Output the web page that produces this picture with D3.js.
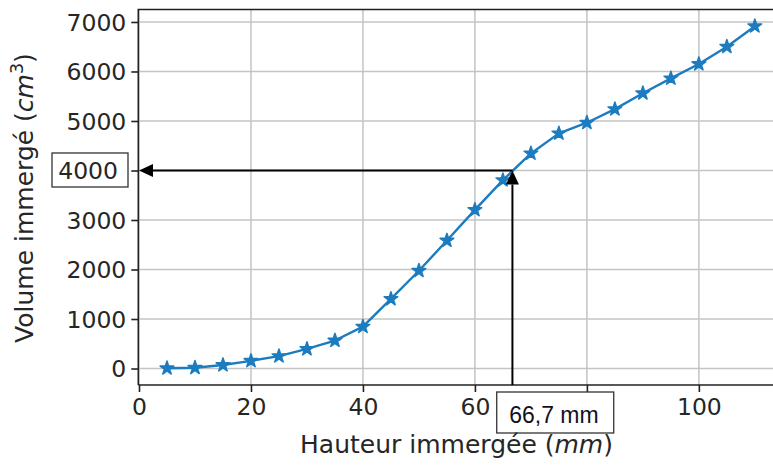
<!DOCTYPE html>
<html>
<head>
<meta charset="utf-8">
<script src="https://cdn.jsdelivr.net/npm/d3@7"></script>
<style>
  html, body { margin: 0; padding: 0; background: #fff; }
  svg { display: block; }
  text { font-family: "DejaVu Sans", sans-serif; fill: #262626; }
</style>
</head>
<body>
<svg id="chart" width="773" height="470"></svg>
<script>
// Immersed height (mm) and immersed volume (cm³)
const heights = [5, 10, 15, 20, 25, 30, 35, 40, 45, 50, 55, 60, 65, 70, 75, 80, 85, 90, 95, 100, 105, 110];
const volumes = [5, 15, 70, 155, 250, 395, 565, 845, 1405, 1975, 2585, 3205, 3805, 4345, 4750, 4965, 5240, 5560, 5860, 6150, 6500, 6915];

const xTicks = [0, 20, 40, 60, 80, 100];
const yTicks = [0, 1000, 2000, 3000, 4000, 5000, 6000, 7000];

// Reading taken off the curve
const readHeight = 66.7;
const readVolume = 4000;
const readHeightLabel = "66,7 mm";
const readVolumeLabel = "4000";

(function draw() {
  const svg = d3.select("#chart");
  const left = 138.3, right = 775, plotTop = 9.5, plotBottom = 385;

  const x = d3.scaleLinear().domain([-0.125, 113.6]).range([left, right]);
  const y = d3.scaleLinear().domain([-333, 7252]).range([plotBottom, plotTop]);

  const blue = "#1c7cbf";

  // grid
  const grid = svg.append("g");
  grid.selectAll("line.gx").data(xTicks).join("line")
    .attr("x1", d => x(d)).attr("x2", d => x(d))
    .attr("y1", plotTop).attr("y2", plotBottom)
    .attr("stroke", "#c4c4c4").attr("stroke-width", 1.5);
  grid.selectAll("line.gy").data(yTicks).join("line")
    .attr("x1", left).attr("x2", right)
    .attr("y1", d => y(d)).attr("y2", d => y(d))
    .attr("stroke", "#c4c4c4").attr("stroke-width", 1.5);

  // axes; the tick labels at the reading positions are covered by the boxed readings
  const xAxis = d3.axisBottom(x).tickValues(xTicks).tickSize(7).tickPadding(6).tickFormat(d3.format("d"));
  const yAxis = d3.axisLeft(y).tickValues(yTicks).tickSize(7).tickPadding(5).tickFormat(d3.format("d"));

  const gx = svg.append("g").attr("transform", `translate(0,${plotBottom})`).call(xAxis);
  const gy = svg.append("g").attr("transform", `translate(${left},0)`).call(yAxis);
  [gx, gy].forEach(g => {
    g.select(".domain").remove();
    g.selectAll(".tick line").attr("stroke", "#222").attr("stroke-width", 1.6);
    g.selectAll(".tick text").attr("font-family", "DejaVu Sans").attr("font-size", 23.5).attr("fill", "#262626");
  });
  gy.selectAll(".tick text").attr("dy", "0.36em");
  gx.selectAll(".tick").filter(d => d === 80).select("text").remove();
  gy.selectAll(".tick").filter(d => d === readVolume).select("text").remove();

  // spines (left, top, bottom)
  svg.append("path")
    .attr("d", `M${left},${plotBottom}H${right}M${left},${plotBottom}V${plotTop}H${right}`)
    .attr("fill", "none").attr("stroke", "#222").attr("stroke-width", 1.6);

  // data line and star markers
  const line = d3.line().x((d, i) => x(heights[i])).y(d => y(d));
  svg.append("path").datum(volumes)
    .attr("d", line)
    .attr("fill", "none").attr("stroke", blue).attr("stroke-width", 2.4)
    .attr("stroke-linejoin", "round");

  const star = d3.symbol().type(d3.symbolStar).size(58);
  svg.append("g").selectAll("path").data(volumes).join("path")
    .attr("transform", (d, i) => `translate(${x(heights[i])},${y(d)})`)
    .attr("d", star)
    .attr("fill", blue).attr("stroke", blue).attr("stroke-width", 1.5)
    .attr("stroke-linejoin", "round");

  // reading arrows
  const px = x(readHeight), py = y(readVolume);
  const headLen = 14, headHalf = 6.5;
  svg.append("line")
    .attr("x1", px).attr("y1", py).attr("x2", x(0) + headLen).attr("y2", py)
    .attr("stroke", "#000").attr("stroke-width", 2);
  svg.append("path")
    .attr("d", `M${x(0)},${py}L${x(0) + headLen},${py - headHalf}L${x(0) + headLen},${py + headHalf}Z`)
    .attr("fill", "#000");
  svg.append("line")
    .attr("x1", px).attr("y1", plotBottom).attr("x2", px).attr("y2", py + headLen)
    .attr("stroke", "#000").attr("stroke-width", 2);
  svg.append("path")
    .attr("d", `M${px},${py}L${px - headHalf},${py + headLen}L${px + headHalf},${py + headLen}Z`)
    .attr("fill", "#000");

  // boxed reading on the y axis
  svg.append("rect")
    .attr("x", 52).attr("y", py - 17.5).attr("width", 76).attr("height", 34)
    .attr("fill", "#fff").attr("stroke", "#333").attr("stroke-width", 1.3);
  svg.append("text")
    .attr("x", 118).attr("y", py).attr("dy", "0.36em")
    .attr("text-anchor", "end").attr("font-size", 23.5)
    .text(readVolumeLabel);

  // boxed reading on the x axis
  svg.append("rect")
    .attr("x", px - 15.7).attr("y", 392).attr("width", 117).attr("height", 41)
    .attr("fill", "#fff").attr("stroke", "#333").attr("stroke-width", 1.3);
  svg.append("text")
    .attr("x", px + 41.5).attr("y", 423)
    .attr("text-anchor", "middle")
    .style("font-family", "'Liberation Sans', Arial, sans-serif")
    .attr("font-size", 23).style("fill", "#111122")
    .text(readHeightLabel);

  // axis titles
  const xt = svg.append("text")
    .attr("x", 456.5).attr("y", 453)
    .attr("text-anchor", "middle").attr("font-size", 25);
  xt.append("tspan").text("Hauteur immergée (");
  xt.append("tspan").attr("font-style", "italic").text("mm");
  xt.append("tspan").text(")");

  const yt = svg.append("text")
    .attr("transform", "translate(33,198) rotate(-90)")
    .attr("text-anchor", "middle").attr("font-size", 25);
  yt.append("tspan").text("Volume immergé (");
  yt.append("tspan").attr("font-style", "italic").text("cm");
  yt.append("tspan").attr("font-size", 17.5).attr("dy", -10).text("3");
  yt.append("tspan").attr("dy", 10).text(")");
})();
</script>
</body>
</html>
